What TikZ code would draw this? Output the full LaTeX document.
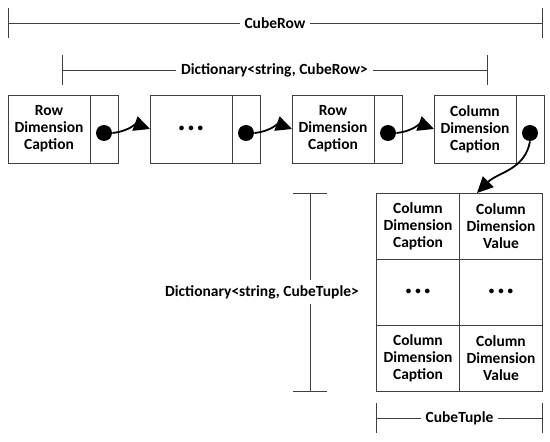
\documentclass[tikz,border=0pt]{standalone}
\usepackage{fontspec}
\setmainfont{Carlito}
\usetikzlibrary{positioning,arrows.meta}
\tikzset{
  every node/.style={font=\bfseries\fontsize{15.5}{17}\selectfont, text=black},
  capbox/.style={draw, minimum width=82pt, minimum height=68pt, align=center, outer sep=0pt, inner sep=0pt},
  ptrbox/.style={draw, minimum width=28pt, minimum height=68pt, outer sep=0pt},
  cellbox/.style={draw, minimum width=83pt, minimum height=66pt, align=center, outer sep=0pt, inner sep=0pt},
  dotnode/.style={circle, fill=black, inner sep=0pt, minimum size=16pt},
  link/.style={-{Triangle[length=16pt,width=15pt]}, line width=1.8pt, draw=black},
  spanlabel/.style={fill=white, inner sep=5pt},
}
\newcommand{\threedots}{{\fontsize{11}{11}\selectfont\textbullet\hspace{4pt}\textbullet\hspace{4pt}\textbullet}}
\begin{document}
\begin{tikzpicture}[x=1pt,y=-1pt,line width=0.8pt,draw=black!75]
  \useasboundingbox (0,0) rectangle (550,442);
  % spans on top
  \draw (8,8) -- (8,38) (542,8) -- (542,38);
  \draw (8,23) -- (542,23) node[midway,spanlabel] {CubeRow};
  \draw (62,55) -- (62,85) (487,55) -- (487,85);
  \draw (62,70) -- (487,70) node[midway,spanlabel] {Dictionary<string, CubeRow>};
  % the linked entries
  \node[capbox] (cap1) at (49,129) {Row\\Dimension\\Caption};
  \node[ptrbox, right=0pt of cap1] (ptr1) {};
  \node[capbox] (cap2) at (191,129) {\threedots};
  \node[ptrbox, right=0pt of cap2] (ptr2) {};
  \node[capbox] (cap3) at (333,129) {Row\\Dimension\\Caption};
  \node[ptrbox, right=0pt of cap3] (ptr3) {};
  \node[capbox] (cap4) at (475,129) {Column\\Dimension\\Caption};
  \node[ptrbox, right=0pt of cap4] (ptr4) {};
  \foreach \i in {1,2,3,4}
    \node[dotnode, yshift=-4pt] (dot\i) at (ptr\i) {};
  \draw[link] (dot1.east) to[out=5,in=160] (cap2.west);
  \draw[link] (dot2.east) to[out=5,in=160] (cap3.west);
  \draw[link] (dot3.east) to[out=5,in=160] (cap4.west);
  % the tuple
  \node[cellbox] (c11) at (418,226) {Column\\Dimension\\Caption};
  \node[cellbox, right=0pt of c11] (c12) {Column\\Dimension\\Value};
  \node[cellbox, below=0pt of c11] (c21) {\threedots};
  \node[cellbox, below=0pt of c12] (c22) {\threedots};
  \node[cellbox, below=0pt of c21] (c31) {Column\\Dimension\\Caption};
  \node[cellbox, below=0pt of c22] (c32) {Column\\Dimension\\Value};
  \coordinate (tuplein) at ([xshift=-24pt]c12.north);
  \draw[link] (dot4.south) to[out=-100,in=45] (tuplein);
  % spans round the tuple
  \draw (293,193) -- (327,193) (293,391) -- (327,391);
  \draw (310,193) -- (310,391);
  \node[spanlabel] (tuplelabel) at (262,292) {Dictionary<string, CubeTuple>};
  \draw (c31.south west |- 0,403) -- (c31.south west |- 0,433);
  \draw (c32.south east |- 0,403) -- (c32.south east |- 0,433);
  \draw (c31.south west |- 0,418) -- (c32.south east |- 0,418) node[midway,spanlabel] {CubeTuple};
\end{tikzpicture}
\end{document}
